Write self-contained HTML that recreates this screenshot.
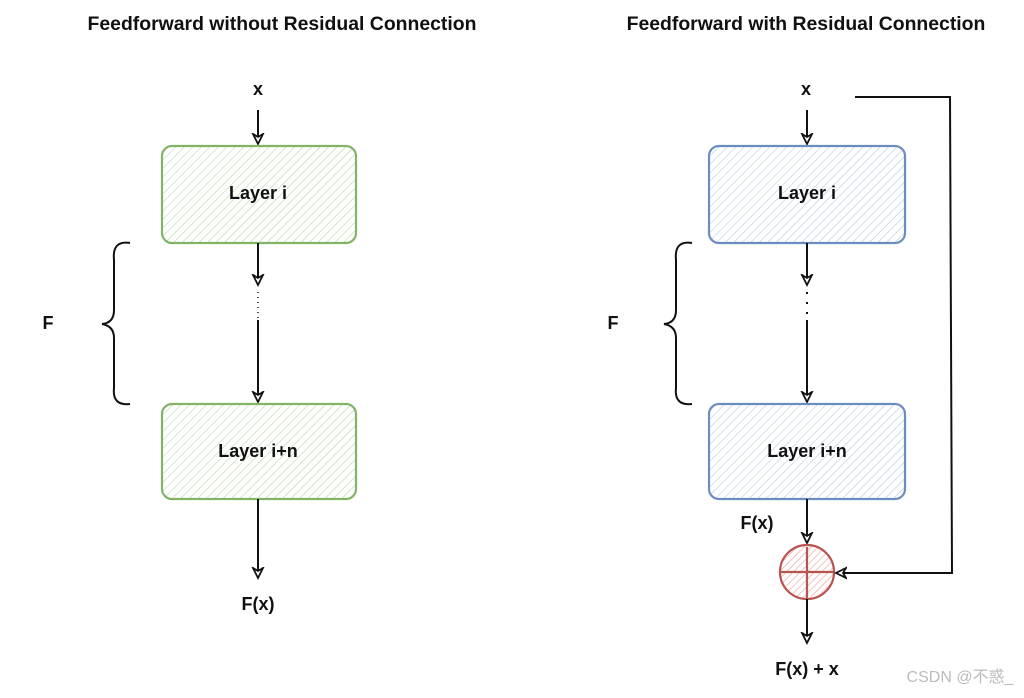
<!DOCTYPE html>
<html><head><meta charset="utf-8"><style>
body{margin:0;background:#fff;}
text{font-family:"Liberation Sans",sans-serif;font-weight:bold;fill:#111;}
</style></head><body>
<svg width="1024" height="693" viewBox="0 0 1024 693" xmlns="http://www.w3.org/2000/svg">
<defs>
<pattern id="hg" width="6" height="6" patternUnits="userSpaceOnUse" patternTransform="rotate(45)"><line x1="0" y1="0" x2="0" y2="6" stroke="#a9d492" stroke-width="1"/></pattern>
<pattern id="hb" width="6" height="6" patternUnits="userSpaceOnUse" patternTransform="rotate(45)"><line x1="0" y1="0" x2="0" y2="6" stroke="#aabfe6" stroke-width="1"/></pattern>
<pattern id="hr" width="5" height="5" patternUnits="userSpaceOnUse" patternTransform="rotate(45)"><line x1="0" y1="0" x2="0" y2="5" stroke="#e9a5a0" stroke-width="1.3"/></pattern>
<marker id="ar" markerWidth="14" markerHeight="14" refX="11" refY="7" orient="auto" markerUnits="userSpaceOnUse"><path d="M1,2 L11,7 L1,12 L4,7 Z" fill="#fff" stroke="#111" stroke-width="1.8"/></marker>
</defs>
<text x="282" y="30" font-size="19.4" text-anchor="middle">Feedforward without Residual Connection</text>
<text x="806" y="30" font-size="19.4" text-anchor="middle">Feedforward with Residual Connection</text>

<text x="258" y="95" font-size="18" text-anchor="middle">x</text>
<line x1="258" y1="110" x2="258" y2="144" stroke="#111" stroke-width="2" marker-end="url(#ar)"/>
<rect x="162" y="146" width="194" height="97" rx="10" fill="url(#hg)" stroke="#82b366" stroke-width="2.2"/>
<text x="258" y="199" font-size="18" text-anchor="middle">Layer i</text>
<line x1="258" y1="243" x2="258" y2="285" stroke="#111" stroke-width="2" marker-end="url(#ar)"/>
<line x1="258" y1="292" x2="258" y2="318" stroke="#111" stroke-width="1.5" stroke-dasharray="1 4"/>
<line x1="258" y1="320" x2="258" y2="402" stroke="#111" stroke-width="2" marker-end="url(#ar)"/>
<rect x="162" y="404" width="194" height="95" rx="10" fill="url(#hg)" stroke="#82b366" stroke-width="2.2"/>
<text x="258" y="457" font-size="18" text-anchor="middle">Layer i+n</text>
<line x1="258" y1="499" x2="258" y2="578" stroke="#111" stroke-width="2" marker-end="url(#ar)"/>
<text x="258" y="610" font-size="18" text-anchor="middle">F(x)</text>
<text x="48" y="329" font-size="18" text-anchor="middle">F</text>
<path d="M130,243 Q112,240 114,260 L114,310 Q114,323 102,324 Q114,326 114,338 L114,388 Q112,406 130,404" fill="none" stroke="#111" stroke-width="2"/>

<text x="806" y="95" font-size="18" text-anchor="middle">x</text>
<line x1="807" y1="110" x2="807" y2="144" stroke="#111" stroke-width="2" marker-end="url(#ar)"/>
<rect x="709" y="146" width="196" height="97" rx="10" fill="url(#hb)" stroke="#6c8ebf" stroke-width="2.2"/>
<text x="807" y="199" font-size="18" text-anchor="middle">Layer i</text>
<line x1="807" y1="243" x2="807" y2="285" stroke="#111" stroke-width="2" marker-end="url(#ar)"/>
<line x1="807" y1="292" x2="807" y2="318" stroke="#111" stroke-width="2" stroke-dasharray="2 8"/>
<line x1="807" y1="320" x2="807" y2="402" stroke="#111" stroke-width="2" marker-end="url(#ar)"/>
<rect x="709" y="404" width="196" height="95" rx="10" fill="url(#hb)" stroke="#6c8ebf" stroke-width="2.2"/>
<text x="807" y="457" font-size="18" text-anchor="middle">Layer i+n</text>
<text x="757" y="529" font-size="18" text-anchor="middle">F(x)</text>
<line x1="807" y1="499" x2="807" y2="543" stroke="#111" stroke-width="2" marker-end="url(#ar)"/>
<circle cx="807" cy="572" r="27" fill="url(#hr)" stroke="#b85450" stroke-width="2.2"/>
<line x1="781" y1="572" x2="833" y2="572" stroke="#b85450" stroke-width="2.2"/>
<line x1="807" y1="547" x2="807" y2="598" stroke="#b85450" stroke-width="2.2"/>
<line x1="807" y1="599" x2="807" y2="643" stroke="#111" stroke-width="2" marker-end="url(#ar)"/>
<text x="807" y="675" font-size="18" text-anchor="middle">F(x) + x</text>
<path d="M855,97 L950,97 L952,573 L836,573" fill="none" stroke="#111" stroke-width="2" marker-end="url(#ar)"/>
<text x="613" y="329" font-size="18" text-anchor="middle">F</text>
<path d="M692,243 Q674,240 676,260 L676,310 Q676,323 664,324 Q676,326 676,338 L676,388 Q674,406 692,404" fill="none" stroke="#111" stroke-width="2"/>
<text x="960" y="682" font-size="16" text-anchor="middle" style="font-weight:normal;fill:#bbb;font-family:'Liberation Sans','Noto Sans CJK SC',sans-serif">CSDN @不惑_</text>
</svg>
</body></html>
